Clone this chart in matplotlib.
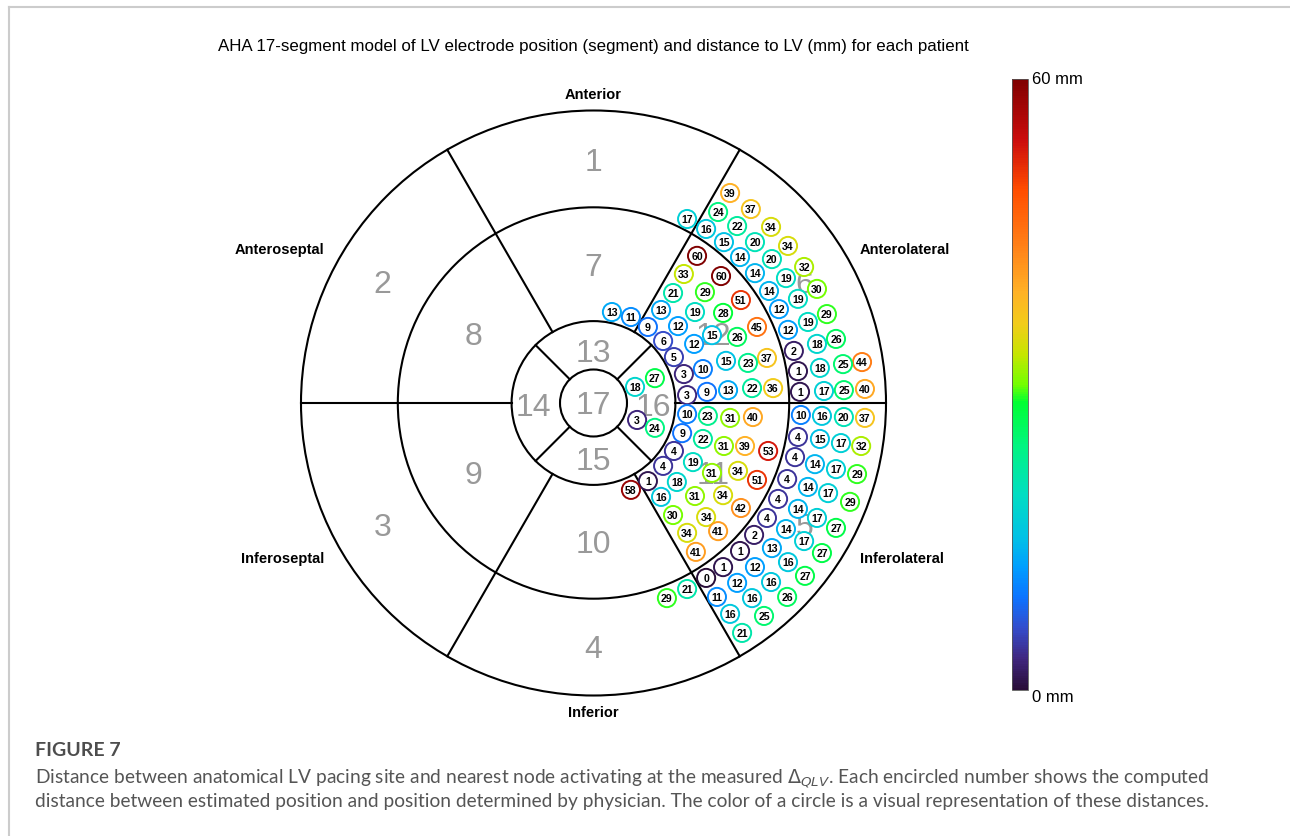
import matplotlib
matplotlib.use("Agg")
import matplotlib.pyplot as plt
import numpy as np
from matplotlib.patches import Circle
from matplotlib.colors import LinearSegmentedColormap, Normalize
from matplotlib.lines import Line2D
import matplotlib.cm as cm

plt.rcParams['font.family'] = ['Liberation Sans', 'DejaVu Sans']

# electrode positions in bullseye units (outer ring radius = 100) and distance (mm)
pos_x = [46.7, 53.8, 42.6, 32.0, 49.1, 60.7, 38.5, 44.6, 55.2, 66.5,
         35.4, 50.1, 61.0, 72.0, 30.9, 43.6, 55.2, 65.8, 76.4, 60.0,
         27.2, 38.1, 50.4, 69.9, 63.4, 79.8, 6.3, 12.8, 23.1, 34.7,
         44.3, 73.3, 18.6, 28.9, 55.9, 66.5, 40.5, 49.1, 82.9, 23.8,
         34.4, 76.4, 68.5, 27.5, 59.3, 45.3, 52.8, 91.8, 85.3, 77.4,
         69.9, 37.4, 30.9, 21.0, 14.2, 32.0, 38.8, 46.0, 54.2, 61.4,
         70.6, 78.8, 85.6, 92.8, 32.0, 39.1, 46.7, 54.5, 70.9, 78.1,
         85.6, 92.8, 14.9, 21.0, 30.3, 37.4, 44.6, 51.8, 59.7, 69.9,
         77.4, 84.6, 91.5, 27.5, 23.8, 34.0, 68.9, 75.7, 82.9, 90.1,
         40.5, 49.4, 55.9, 66.2, 73.3, 80.2, 87.7, 18.6, 12.8, 28.5,
         23.1, 34.7, 44.3, 50.4, 63.1, 69.9, 76.4, 82.9, 27.2, 38.5,
         59.3, 54.9, 65.8, 72.0, 78.1, 32.0, 42.6, 61.0, 35.0, 50.1,
         66.5, 44.3, 55.2, 72.3, 38.5, 49.1, 60.7, 32.0, 25.1, 42.2,
         66.2, 54.2, 46.7, 58.3, 50.8]
pos_y = [71.8, 66.3, 65.3, 62.9, 60.5, 60.2, 59.5, 55.0, 55.0, 53.7,
         50.3, 49.9, 49.2, 46.5, 44.1, 43.4, 44.4, 42.7, 39.0, 38.3,
         37.6, 37.9, 35.2, 35.6, 32.1, 30.4, 31.1, 29.4, 31.8, 31.1,
         30.8, 27.7, 26.0, 26.3, 26.0, 25.0, 23.2, 22.6, 21.9, 21.2,
         20.2, 20.2, 17.8, 15.7, 15.4, 14.4, 13.7, 14.0, 13.3, 12.0,
         10.9, 11.6, 9.9, 8.5, 5.5, 2.7, 3.8, 4.4, 5.1, 5.1,
         3.8, 4.1, 4.4, 4.8, -3.8, -4.4, -5.1, -4.8, -4.1, -4.4,
         -4.8, -5.1, -5.8, -8.5, -10.3, -12.3, -14.7, -14.7, -16.4, -11.6,
         -12.3, -13.7, -14.7, -16.4, -21.5, -20.2, -18.5, -20.9, -22.6, -24.3,
         -23.9, -23.2, -26.3, -26.0, -28.7, -30.8, -33.8, -26.7, -29.7, -27.0,
         -32.1, -31.8, -31.5, -35.9, -32.8, -36.2, -39.3, -42.7, -38.3, -39.0,
         -39.3, -45.1, -43.1, -47.2, -51.3, -44.4, -43.8, -49.6, -50.9, -50.6,
         -54.4, -56.1, -56.1, -59.1, -59.8, -61.5, -61.2, -63.6, -66.7, -66.3,
         -66.3, -66.7, -72.1, -72.8, -78.6]
distance = [39, 37, 24, 17, 22, 34, 16, 15, 20, 34,
            60, 14, 20, 32, 33, 60, 14, 19, 30, 14,
            21, 29, 51, 19, 12, 29, 13, 11, 13, 19,
            28, 19, 9, 12, 45, 12, 15, 26, 26, 6,
            12, 18, 2, 5, 37, 15, 23, 44, 25, 18,
            1, 10, 3, 27, 18, 3, 9, 13, 22, 36,
            1, 17, 25, 40, 10, 23, 31, 40, 10, 16,
            20, 37, 3, 24, 9, 22, 31, 39, 53, 4,
            15, 17, 32, 4, 4, 19, 4, 14, 17, 29,
            31, 34, 51, 4, 14, 17, 29, 1, 58, 18,
            16, 31, 34, 42, 4, 14, 17, 27, 30, 34,
            4, 2, 14, 17, 27, 34, 41, 13, 41, 1,
            16, 1, 12, 27, 0, 12, 16, 21, 29, 11,
            26, 16, 16, 25, 21]

# ring radii of the bullseye
ring_radii = [100, 66.9, 28.0, 11.45]
wall_names = ["Anterior", "Anteroseptal", "Inferoseptal", "Inferior", "Inferolateral", "Anterolateral"]

# colormap
cmap = LinearSegmentedColormap.from_list("dist", [
    (0.00, (0.16, 0.05, 0.22)),
    (0.05, (0.25, 0.15, 0.50)),
    (0.10, (0.20, 0.30, 0.80)),
    (0.15, (0.05, 0.45, 1.00)),
    (0.20, (0.00, 0.62, 1.00)),
    (0.25, (0.00, 0.76, 0.90)),
    (0.32, (0.00, 0.87, 0.76)),
    (0.40, (0.00, 0.96, 0.50)),
    (0.47, (0.00, 1.00, 0.20)),
    (0.50, (0.45, 1.00, 0.00)),
    (0.55, (0.78, 0.90, 0.00)),
    (0.60, (0.95, 0.80, 0.10)),
    (0.65, (1.00, 0.70, 0.15)),
    (0.72, (1.00, 0.52, 0.10)),
    (0.82, (1.00, 0.30, 0.00)),
    (0.90, (0.80, 0.05, 0.05)),
    (1.00, (0.50, 0.00, 0.00)),
])
norm = Normalize(0, 60)

fig = plt.figure(figsize=(12.9, 8.36), dpi=100)
ax = fig.add_axes([273.5 / 1290, 113 / 836, 640 / 1290, 640 / 836])
lim = 109.4
ax.set_xlim(-lim, lim)
ax.set_ylim(-lim, lim)
ax.axis('off')

lw = 1.5
for r in ring_radii:
    ax.add_patch(Circle((0, 0), r, fill=False, edgecolor='black', linewidth=lw, zorder=2))
for a in range(0, 360, 60):
    t = np.deg2rad(a)
    ax.plot([ring_radii[2] * np.cos(t), 100 * np.cos(t)],
            [ring_radii[2] * np.sin(t), 100 * np.sin(t)], color='black', lw=lw, zorder=2)
for a in range(45, 360, 90):
    t = np.deg2rad(a)
    ax.plot([ring_radii[3] * np.cos(t), ring_radii[2] * np.cos(t)],
            [ring_radii[3] * np.sin(t), ring_radii[2] * np.sin(t)], color='black', lw=lw, zorder=2)

# segment numbers
gray = '#999999'
seg_angles = [90, 150, 210, 270, 330, 30]
for i, a in enumerate(seg_angles):
    t = np.deg2rad(a)
    ax.text(83.3 * np.cos(t), 83.3 * np.sin(t), str(i + 1), color=gray, fontsize=23,
            ha='center', va='center_baseline', zorder=1)
    ax.text(47.3 * np.cos(t), 47.3 * np.sin(t), str(i + 7), color=gray, fontsize=23,
            ha='center', va='center_baseline', zorder=1)
for i, a in enumerate([90, 180, 270, 0]):
    t = np.deg2rad(a)
    rr = 18.5 if a in (90, 270) else 20.5
    ax.text(rr * np.cos(t), rr * np.sin(t) - 0.5, str(i + 13), color=gray, fontsize=23,
            ha='center', va='center_baseline', zorder=1)
ax.text(0, 0, "17", color=gray, fontsize=23, ha='center', va='center_baseline', zorder=1)

# wall names
name_pos = [(0, 105.3), (-107.2, 52.3), (-106.2, -53.3), (0, -106.0), (105.5, -53.3), (106.5, 52.3)]
for name, (nx, ny) in zip(wall_names, name_pos):
    ax.text(nx, ny, name, fontsize=10.5, fontweight='bold', ha='center', va='center')

# encircled distances
for x, y, d in zip(pos_x, pos_y, distance):
    ax.add_patch(Circle((x, y), 3.1, facecolor='white', edgecolor=cmap(norm(d)),
                        linewidth=1.4, zorder=3))
    ax.text(x, y, str(d), fontsize=7.6, fontweight='bold', ha='center', va='center_baseline', zorder=4)

fig.text(593 / 1290, 1 - 47 / 836, "AHA 17-segment model of LV electrode position (segment) and distance to LV (mm) for each patient",
         ha='center', va='center', fontsize=12.2)

# colour bar
cax = fig.add_axes([1012 / 1290, (836 - 690) / 836, 16 / 1290, 611 / 836])
cb = fig.colorbar(cm.ScalarMappable(norm=norm, cmap=cmap), cax=cax)
cb.set_ticks([])
cb.outline.set_linewidth(0.6)
cb.outline.set_edgecolor('#555555')
fig.text(1032 / 1290, 1 - 79 / 836, "60 mm", fontsize=12, va='center')
fig.text(1032 / 1290, 1 - 697 / 836, "0 mm", fontsize=12, va='center')

# page frame
fig.add_artist(Line2D([9 / 1290, 1], [1 - 7 / 836, 1 - 7 / 836], color='#cccccc', lw=1.5))
fig.add_artist(Line2D([9 / 1290, 9 / 1290], [0, 1 - 7 / 836], color='#cccccc', lw=1.5))

# caption
cap_font = ['Lato', 'DejaVu Sans']
fig.text(35 / 1290, 1 - 750 / 836, "FIGURE 7", fontsize=14, fontweight='bold', color='#4d4d4d',
         va='center', family=cap_font)
fig.text(35 / 1290, 1 - 779 / 836,
         "Distance between anatomical LV pacing site and nearest node activating at the measured $\\Delta_{QLV}$. "
         "Each encircled number shows the computed",
         fontsize=13.8, color='#555555', va='center', family=cap_font)
fig.text(35 / 1290, 1 - 801 / 836,
         "distance between estimated position and position determined by physician. "
         "The color of a circle is a visual representation of these distances.",
         fontsize=13.8, color='#555555', va='center', family=cap_font)

fig.savefig("out.png", dpi=100)
